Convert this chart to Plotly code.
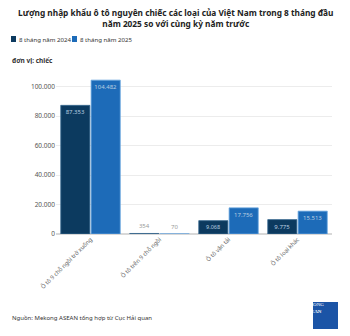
import plotly.graph_objects as go

categories = ["Ô tô 9 chỗ ngồi trở xuống", "Ô tô trên 9 chỗ ngồi", "Ô tô vận tải", "Ô tô loại khác"]
series_2024 = [87353, 354, 9068, 9775]
series_2025 = [104482, 70, 17756, 15513]
series_names = ["8 tháng năm 2024", "8 tháng năm 2025"]
y_ticks = [0, 20000, 40000, 60000, 80000, 100000]

colors = ["#0c3a5f", "#1d6bb8"]
edge = ["#3a6a90", "#6aa7e0"]

W, H = 350, 336
L, R, T, B = 56, 18, 72, 102
PW, PH = W - L - R, H - T - B


def px(x):
    return (x - L) / PW


def py(y):
    return (H - B - y) / PH


fig = go.Figure()
for name, vals, c, e in zip(series_names, [series_2024, series_2025], colors, edge):
    pos = ["inside" if v > 5000 else "outside" for v in vals]
    tcol = ["#b8cde0" if v > 5000 else "#9a9a9a" for v in vals]
    fig.add_trace(go.Bar(
        x=categories, y=vals, name=name,
        marker=dict(color=c, line=dict(color=e, width=0.8)),
        texttemplate="%{y:,}", textposition=pos, insidetextanchor="end",
        textfont=dict(size=6, color=tcol), cliponaxis=False,
    ))

fig.update_layout(
    width=W, height=H,
    margin=dict(l=L, r=R, t=T, b=B),
    paper_bgcolor="white", plot_bgcolor="white",
    font=dict(family="Noto Sans", size=7, color="#555"),
    separators=",.",
    barmode="group", bargap=0.12, bargroupgap=0.04,
    showlegend=False,
    xaxis=dict(tickangle=-45, tickfont=dict(size=5.8, color="#666"), showline=False,
               ticks=""),
    yaxis=dict(range=[0, 110000], tickvals=y_ticks, tickformat=",",
               tickfont=dict(size=6.5, color="#555"), gridcolor="#ececec",
               zeroline=True, zerolinecolor="#d8d8d8", showline=False),
)

fig.add_annotation(text="<b>Lượng nhập khẩu ô tô nguyên chiếc các loại của Việt Nam trong 8 tháng đầu<br>năm 2025 so với cùng kỳ năm trước</b>",
                   xref="paper", yref="paper", x=px(175), y=py(18), xanchor="center", yanchor="middle",
                   showarrow=False, align="center", font=dict(size=8.3, color="#222"))

# manual legend
leg_x = [11, 72]
for name, c, lx in zip(series_names, colors, leg_x):
    fig.add_shape(type="rect", xref="paper", yref="paper",
                  x0=px(lx), x1=px(lx + 5), y0=py(42), y1=py(36),
                  fillcolor=c, line=dict(width=0))
    fig.add_annotation(text=name, xref="paper", yref="paper",
                       x=px(lx + 5.5), y=py(39), xanchor="left", yanchor="middle",
                       showarrow=False, font=dict(size=6.1, color="#333"))

fig.add_annotation(text="<b>đơn vị: chiếc</b>", xref="paper", yref="paper",
                   x=px(10), y=py(61), xanchor="left", yanchor="middle",
                   showarrow=False, font=dict(size=6.5, color="#333"))
fig.add_annotation(text="Nguồn: Mekong ASEAN tổng hợp từ Cục Hải quan", xref="paper", yref="paper",
                   x=px(10), y=py(318), xanchor="left", yanchor="middle",
                   showarrow=False, font=dict(size=6, color="#333"))
fig.add_shape(type="rect", xref="paper", yref="paper", x0=px(313), x1=px(338), y0=py(329), y1=py(302),
              fillcolor="#1b54a6", line=dict(width=0))
fig.add_annotation(text="MEKONG<br><b>ASEAN</b>", xref="paper", yref="paper",
                   x=px(325.5), y=py(315.5), showarrow=False, align="center",
                   font=dict(size=5, color="white", family="Liberation Serif"))

fig.write_html("out.html")
